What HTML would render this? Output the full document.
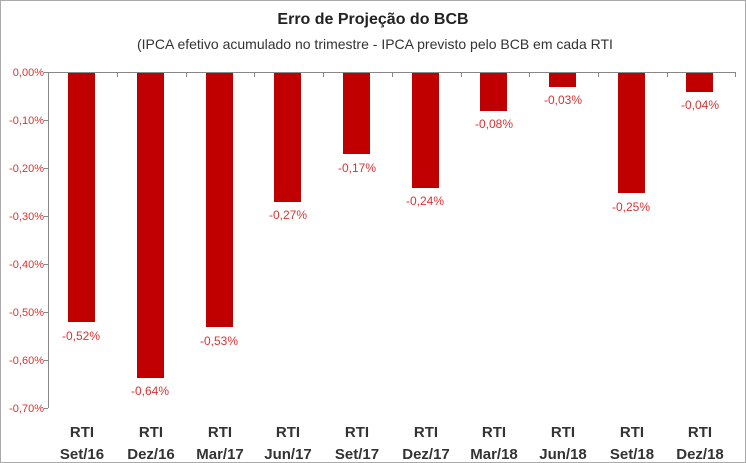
<!DOCTYPE html>
<html><head><meta charset="utf-8"><style>
body{margin:0;background:#fff}
svg{display:block;font-family:"Liberation Sans",sans-serif}
</style></head><body>
<svg width="746" height="463" viewBox="0 0 746 463">
<rect x="0.5" y="0.5" width="745" height="462" fill="#fff" stroke="#aaa"/>
<text x="373" y="24" text-anchor="middle" font-size="16" font-weight="bold" fill="#222">Erro de Projeção do BCB</text>
<text x="137" y="49" font-size="14" fill="#333">(IPCA efetivo acumulado no trimestre - IPCA previsto pelo BCB em cada RTI</text>
<g font-size="11" fill="#e03030" text-anchor="end">
<text x="44" y="76">0,00%</text><text x="44" y="124">-0,10%</text><text x="44" y="172">-0,20%</text><text x="44" y="220">-0,30%</text><text x="44" y="268">-0,40%</text><text x="44" y="316">-0,50%</text><text x="44" y="364">-0,60%</text><text x="44" y="412">-0,70%</text>
</g>
<g stroke="#888" stroke-width="1">
<line x1="48.5" y1="72" x2="48.5" y2="408"/>
<line x1="48" y1="72.5" x2="736" y2="72.5"/>
<path d="M44 72.5h4M44 120.5h4M44 168.5h4M44 216.5h4M44 264.5h4M44 312.5h4M44 360.5h4M44 408.5h4"/>
<path d="M117.5 72v5M186.5 72v5M254.5 72v5M323.5 72v5M392.5 72v5M461.5 72v5M529.5 72v5M598.5 72v5M667.5 72v5M735.5 72v5"/>
</g>
<g fill="#c00000">
<rect x="68" y="73" width="27" height="249"/>
<rect x="137" y="73" width="27" height="305"/>
<rect x="206" y="73" width="27" height="254"/>
<rect x="274" y="73" width="27" height="129"/>
<rect x="343" y="73" width="27" height="81"/>
<rect x="412" y="73" width="27" height="115"/>
<rect x="480" y="73" width="27" height="38"/>
<rect x="549" y="73" width="27" height="14"/>
<rect x="618" y="73" width="27" height="120"/>
<rect x="686" y="73" width="27" height="19"/>
</g>
<g font-size="12" fill="#e03030" text-anchor="middle">
<text x="81" y="340">-0,52%</text>
<text x="150" y="395">-0,64%</text>
<text x="219" y="345">-0,53%</text>
<text x="288" y="219">-0,27%</text>
<text x="357" y="172">-0,17%</text>
<text x="425" y="205">-0,24%</text>
<text x="494" y="128">-0,08%</text>
<text x="563" y="104">-0,03%</text>
<text x="631" y="211">-0,25%</text>
<text x="700" y="109">-0,04%</text>
</g>
<g font-size="15" font-weight="bold" fill="#333" text-anchor="middle">
<text x="82" y="437">RTI</text><text x="82" y="459">Set/16</text>
<text x="151" y="437">RTI</text><text x="151" y="459">Dez/16</text>
<text x="220" y="437">RTI</text><text x="220" y="459">Mar/17</text>
<text x="288" y="437">RTI</text><text x="288" y="459">Jun/17</text>
<text x="357" y="437">RTI</text><text x="357" y="459">Set/17</text>
<text x="426" y="437">RTI</text><text x="426" y="459">Dez/17</text>
<text x="494" y="437">RTI</text><text x="494" y="459">Mar/18</text>
<text x="563" y="437">RTI</text><text x="563" y="459">Jun/18</text>
<text x="632" y="437">RTI</text><text x="632" y="459">Set/18</text>
<text x="700" y="437">RTI</text><text x="700" y="459">Dez/18</text>
</g>
</svg>
</body></html>
